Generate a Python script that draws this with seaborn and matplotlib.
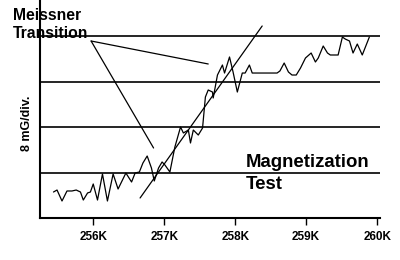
import matplotlib
matplotlib.use("Agg")
import matplotlib.pyplot as plt
import seaborn as sns
import pandas as pd

# Data
temperature_k = [255.44, 255.49, 255.56, 255.63, 255.70, 255.76, 255.82, 255.86, 255.92, 255.96,
                 256.00, 256.06, 256.13, 256.20, 256.28, 256.35, 256.46, 256.54, 256.59, 256.65,
                 256.70, 256.76, 256.82, 256.86, 256.92, 256.97, 257.01, 257.08, 257.15, 257.23,
                 257.27, 257.34, 257.37, 257.41, 257.48, 257.54, 257.58, 257.62, 257.68, 257.69,
                 257.75, 257.82, 257.85, 257.92, 257.97, 258.03, 258.10, 258.14, 258.20, 258.24,
                 258.38, 258.59, 258.63, 258.69, 258.75, 258.80, 258.86, 258.92, 258.99, 259.07,
                 259.13, 259.17, 259.24, 259.30, 259.34, 259.45, 259.51, 259.55, 259.61, 259.66,
                 259.72, 259.79, 259.89]
magnetization_mg = [4.57, 4.92, 2.99, 4.75, 4.75, 4.92, 4.57, 3.16, 4.40, 4.57,
                    5.98, 3.16, 7.74, 2.99, 7.74, 5.10, 7.91, 6.33, 7.91, 8.09,
                    9.67, 10.90, 8.79, 6.51, 8.79, 9.85, 9.32, 8.09, 12.48, 16.00,
                    14.95, 15.47, 13.19, 15.47, 14.59, 15.82, 21.27, 22.51, 22.15, 21.10,
                    25.14, 26.90, 25.49, 28.31, 25.67, 22.15, 25.49, 25.49, 26.90, 25.49,
                    25.49, 25.49, 25.85, 27.25, 25.67, 25.14, 25.14, 26.37, 28.13, 29.01,
                    27.43, 28.13, 30.24, 29.01, 28.66, 28.66, 31.82, 31.47, 31.12, 29.01,
                    30.59, 28.66, 31.82]
fit_k = [256.66, 258.38]
fit_mg = [3.52, 33.76]
grid_levels = [8, 16, 24, 32]
tick_values = [256, 257, 258, 259, 260]
tick_labels = ["256K", "257K", "258K", "259K", "260K"]

sns.set_style("white")
plt.rcParams["font.family"] = ["Liberation Sans", "DejaVu Sans"]
plt.rcParams["text.color"] = "black"
plt.rcParams["xtick.color"] = "black"
plt.rcParams["xtick.labelcolor"] = "black"

fig = plt.figure(figsize=(4, 2.6), dpi=100)
ax = fig.add_axes([0.1, 42 / 260, 0.85, 218 / 260])

for g in grid_levels:
    ax.axhline(g, color="black", lw=1.2, zorder=1)

df = pd.DataFrame({"T": temperature_k, "M": magnetization_mg})
sns.lineplot(data=df, x="T", y="M", color="black", lw=0.9, estimator=None, sort=False, ax=ax, zorder=3)
sns.lineplot(x=fit_k, y=fit_mg, color="black", lw=0.9, estimator=None, ax=ax, zorder=3)

# annotation lines for "Meissner Transition"
ax.plot([255.97, 257.62], [31.12, 27.08], color="black", lw=0.9, clip_on=False)
ax.plot([255.97, 256.85], [31.12, 12.31], color="black", lw=0.9, clip_on=False)

ax.set_xlim(255.25, 260.04)
ax.set_ylim(0, 38.33)
ax.set_xticks(tick_values)
ax.set_xticklabels(tick_labels, fontweight="bold", fontsize=8.5, color="black")
ax.set_yticks([])
ax.set_xlabel("")
ax.set_ylabel("")
ax.tick_params(axis="x", direction="out", length=5, width=1, color="black", pad=4, bottom=True)
for s in ["top", "right"]:
    ax.spines[s].set_visible(False)
for s in ["left", "bottom"]:
    ax.spines[s].set_color("black")
    ax.spines[s].set_linewidth(1.5)

fig.text(12.5 / 400, (260 - 20) / 260, "Meissner", fontsize=11.3, fontweight="bold", va="baseline", ha="left", color="black")
fig.text(12.5 / 400, (260 - 38) / 260, "Transition", fontsize=11.3, fontweight="bold", va="baseline", ha="left", color="black")
fig.text(246 / 400, (260 - 167) / 260, "Magnetization", fontsize=13.4, fontweight="bold", va="baseline", ha="left", color="black")
fig.text(246 / 400, (260 - 189) / 260, "Test", fontsize=13.4, fontweight="bold", va="baseline", ha="left", color="black")
fig.text(27 / 400, (260 - 123) / 260, "8 mG/div.", fontsize=9, fontweight="bold", rotation=90, va="center", ha="center", color="black")

fig.savefig("out.png", dpi=100)
